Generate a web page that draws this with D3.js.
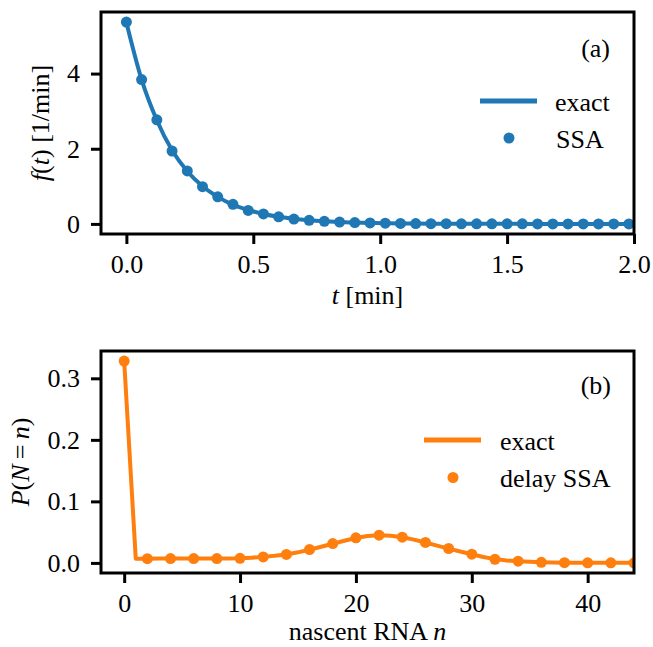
<!DOCTYPE html>
<html>
<head>
<meta charset="utf-8">
<script src="https://cdn.jsdelivr.net/npm/d3@7"></script>
<style>
  html, body { margin: 0; padding: 0; background: #fff; }
  svg { display: block; }
  svg text { font-family: "Liberation Serif", "Times New Roman", "DejaVu Serif", serif !important; fill: #000; }
</style>
</head>
<body>
<svg id="chart" width="653" height="647"></svg>
<script>
// ---------- Panel (a): waiting-time density ----------
const tSSA = [0, 0.06, 0.12, 0.18, 0.24, 0.30, 0.36, 0.42, 0.48, 0.54, 0.60, 0.66, 0.72, 0.78, 0.84, 0.90, 0.96,
  1.02, 1.08, 1.14, 1.20, 1.26, 1.32, 1.38, 1.44, 1.50, 1.56, 1.62, 1.68, 1.74, 1.80, 1.86, 1.92, 1.98];
const fSSA = [5.37, 3.84, 2.77, 1.94, 1.41, 0.99, 0.72, 0.52, 0.36, 0.265, 0.19, 0.13, 0.095, 0.07, 0.05, 0.036, 0.026,
  0.019, 0.013, 0.010, 0.007, 0.005, 0.0035, 0.0025, 0.002, 0.0013, 0.001, 0.0007, 0.0005, 0.0004, 0.0003, 0.0002, 0.0001, 0.0001];
const tExact = [0, 0.06, 0.12, 0.18, 0.24, 0.30, 0.36, 0.42, 0.48, 0.54, 0.60, 0.66, 0.72, 0.78, 0.84, 0.90, 0.96,
  1.02, 1.08, 1.14, 1.20, 1.26, 1.32, 1.38, 1.44, 1.50, 1.56, 1.62, 1.68, 1.74, 1.80, 1.86, 1.92, 1.98, 2.04];
const fExact = [5.36, 3.84, 2.76, 1.96, 1.40, 1.00, 0.72, 0.51, 0.37, 0.265, 0.19, 0.135, 0.097, 0.07, 0.05, 0.036, 0.026,
  0.019, 0.013, 0.0095, 0.007, 0.005, 0.0035, 0.0025, 0.0018, 0.0013, 0.0009, 0.0007, 0.0005, 0.0003, 0.0002, 0.0002, 0.0001, 0.0001, 0.0001];
const xTicksA = [0, 0.5, 1.0, 1.5, 2.0];
const yTicksA = [0, 2, 4];

// ---------- Panel (b): nascent RNA distribution ----------
const nSSA = [0, 2, 4, 6, 8, 10, 12, 14, 16, 18, 20, 22, 24, 26, 28, 30, 32, 34, 36, 38, 40, 42, 44];
const pSSA = [0.328, 0.0068, 0.007, 0.007, 0.007, 0.0075, 0.0098, 0.0137, 0.0218, 0.0315, 0.0407, 0.045, 0.0418,
  0.0332, 0.0234, 0.0141, 0.0058, 0.0028, 0.001, 0.0004, 0.0002, 0.0001, 0.0001];
const nExact = [0, 1, 2, 3, 4, 5, 6, 7, 8, 9, 10, 11, 12, 13, 14, 15, 16, 17, 18, 19, 20, 21, 22,
  23, 24, 25, 26, 27, 28, 29, 30, 31, 32, 33, 34, 35, 36, 37, 38, 39, 40, 41, 42, 43, 44];
const pExact = [0.328, 0.0068, 0.0069, 0.007, 0.007, 0.007, 0.007, 0.0071, 0.0072, 0.0073, 0.0076, 0.0085, 0.0098,
  0.0115, 0.0138, 0.0172, 0.0215, 0.0262, 0.0312, 0.036, 0.0405, 0.0437, 0.0449, 0.0443, 0.0418, 0.0378, 0.0332,
  0.0282, 0.0232, 0.0185, 0.0141, 0.0097, 0.0062, 0.0040, 0.0026, 0.0017, 0.0011, 0.0007, 0.0004, 0.0003, 0.0002,
  0.0001, 0.0001, 0.0001, 0.0001];
const xTicksB = [0, 10, 20, 30, 40];
const yTicksB = [0.0, 0.1, 0.2, 0.3];

const BLUE = "#1f77b4", ORANGE = "#ff7f0e";
const FS = 26;
const FONT = '"Liberation Serif", "Times New Roman", "DejaVu Serif", serif';
const svg = d3.select("#chart").attr("font-family", FONT);

function autoDomain(vals) {
  const mn = Math.min(0, d3.min(vals)), mx = d3.max(vals);
  const pad = 0.05 * (mx - mn);
  return [mn - pad, mx + pad];
}

function txt(sel) {
  return sel.attr("font-family", FONT).attr("font-size", FS).attr("fill", "#000");
}

function panel(cfg) {
  const { left, right, top, bottom, xDomain, yDomain, xTicks, yTicks, xFmt, yFmt, id } = cfg;
  const x = d3.scaleLinear().domain(xDomain).range([left, right]);
  const y = d3.scaleLinear().domain(yDomain).range([bottom, top]);
  const g = svg.append("g");

  svg.append("clipPath").attr("id", id).append("rect")
    .attr("x", left).attr("y", top).attr("width", right - left).attr("height", bottom - top);

  const xa = g.append("g").attr("transform", `translate(0,${bottom})`)
    .call(d3.axisBottom(x).tickValues(xTicks).tickFormat(xFmt).tickSize(10).tickSizeOuter(0));
  xa.attr("font-family", FONT).attr("font-size", FS);
  xa.select(".domain").remove();
  xa.selectAll(".tick line").attr("stroke", "#000").attr("stroke-width", 3);
  txt(xa.selectAll(".tick text")).attr("y", 39).attr("dy", 0);

  const ya = g.append("g").attr("transform", `translate(${left},0)`)
    .call(d3.axisLeft(y).tickValues(yTicks).tickFormat(yFmt).tickSize(10).tickSizeOuter(0));
  ya.attr("font-family", FONT).attr("font-size", FS);
  ya.select(".domain").remove();
  ya.selectAll(".tick line").attr("stroke", "#000").attr("stroke-width", 3);
  txt(ya.selectAll(".tick text")).attr("x", -21).attr("dy", "0.32em");

  const plot = g.append("g").attr("clip-path", `url(#${id})`);
  return { x, y, g, plot, frame: () => g.append("rect")
      .attr("x", left).attr("y", top).attr("width", right - left).attr("height", bottom - top)
      .attr("fill", "none").attr("stroke", "#000").attr("stroke-width", 3) };
}

// ----- Panel (a)
const A = panel({
  id: "clipA", left: 101, right: 634, top: 12, bottom: 234,
  xDomain: [-0.1, 2.0], yDomain: autoDomain(fSSA),
  xTicks: xTicksA, yTicks: yTicksA, xFmt: d3.format(".1f"), yFmt: d3.format("d")
});
A.plot.append("path")
  .datum(tExact.map((t, i) => [t, fExact[i]]))
  .attr("fill", "none").attr("stroke", BLUE).attr("stroke-width", 4)
  .attr("d", d3.line().x(d => A.x(d[0])).y(d => A.y(d[1])).curve(d3.curveMonotoneX));
A.plot.selectAll("circle").data(tSSA.map((t, i) => [t, fSSA[i]])).join("circle")
  .attr("cx", d => A.x(d[0])).attr("cy", d => A.y(d[1])).attr("r", 5.5).attr("fill", BLUE);
A.frame();

const ylabA = txt(svg.append("text")).attr("transform", "translate(49,123) rotate(-90)").attr("text-anchor", "middle");
ylabA.append("tspan").attr("font-style", "italic").text("f");
ylabA.append("tspan").text("(");
ylabA.append("tspan").attr("font-style", "italic").text("t");
ylabA.append("tspan").text(") [1/min]");

const xlabA = txt(svg.append("text")).attr("x", 367.5).attr("y", 304).attr("text-anchor", "middle");
xlabA.append("tspan").attr("font-style", "italic").text("t");
xlabA.append("tspan").text(" [min]");

txt(svg.append("text")).attr("x", 610).attr("y", 57).attr("text-anchor", "end").text("(a)");
svg.append("line").attr("x1", 480).attr("x2", 537).attr("y1", 101).attr("y2", 101)
  .attr("stroke", BLUE).attr("stroke-width", 5);
txt(svg.append("text")).attr("x", 555).attr("y", 111).text("exact");
svg.append("circle").attr("cx", 509).attr("cy", 138).attr("r", 5.5).attr("fill", BLUE);
txt(svg.append("text")).attr("x", 556).attr("y", 148).text("SSA");

// ----- Panel (b)
const B = panel({
  id: "clipB", left: 101, right: 634, top: 351, bottom: 573,
  xDomain: [-2, 44], yDomain: autoDomain(pSSA),
  xTicks: xTicksB, yTicks: yTicksB, xFmt: d3.format("d"), yFmt: d3.format(".1f")
});
B.plot.append("path")
  .datum(nExact.map((n, i) => [n, pExact[i]]))
  .attr("fill", "none").attr("stroke", ORANGE).attr("stroke-width", 4).attr("stroke-linejoin", "round")
  .attr("d", d3.line().x(d => B.x(d[0])).y(d => B.y(d[1])));
B.plot.selectAll("circle").data(nSSA.map((n, i) => [n, pSSA[i]])).join("circle")
  .attr("cx", d => B.x(d[0])).attr("cy", d => B.y(d[1])).attr("r", 5.5).attr("fill", ORANGE);
B.frame();

const ylabB = txt(svg.append("text")).attr("transform", "translate(29,462) rotate(-90)").attr("text-anchor", "middle");
ylabB.append("tspan").attr("font-style", "italic").text("P");
ylabB.append("tspan").text("(");
ylabB.append("tspan").attr("font-style", "italic").text("N");
ylabB.append("tspan").text("\u2009=\u2009");
ylabB.append("tspan").attr("font-style", "italic").text("n");
ylabB.append("tspan").text(")");

const xlabB = txt(svg.append("text")).attr("x", 367.5).attr("y", 640).attr("text-anchor", "middle");
xlabB.append("tspan").text("nascent RNA ");
xlabB.append("tspan").attr("font-style", "italic").text("n");

txt(svg.append("text")).attr("x", 611).attr("y", 394).attr("text-anchor", "end").text("(b)");
svg.append("line").attr("x1", 424).attr("x2", 481).attr("y1", 440).attr("y2", 440)
  .attr("stroke", ORANGE).attr("stroke-width", 5);
txt(svg.append("text")).attr("x", 500).attr("y", 450).text("exact");
svg.append("circle").attr("cx", 453).attr("cy", 477.5).attr("r", 5.5).attr("fill", ORANGE);
txt(svg.append("text")).attr("x", 500).attr("y", 487).text("delay SSA");
</script>
</body>
</html>
